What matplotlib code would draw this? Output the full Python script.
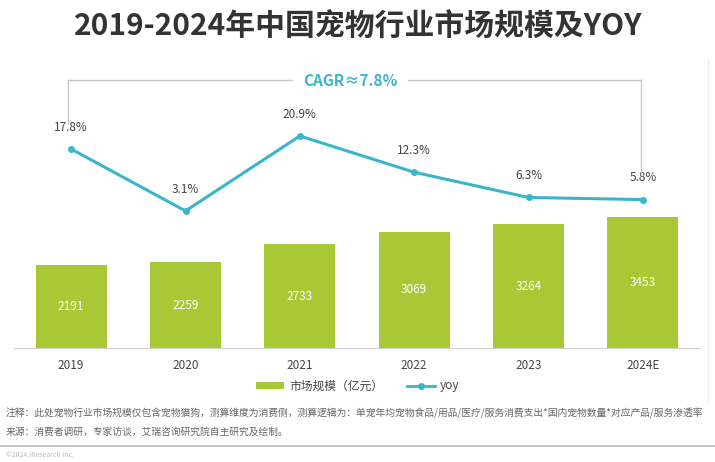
import matplotlib
matplotlib.use("Agg")
import matplotlib.pyplot as plt
from matplotlib.lines import Line2D
from matplotlib.patches import Patch

plt.rcParams['font.family'] = ['Noto Sans CJK SC', 'DejaVu Sans']

years = ["2019", "2020", "2021", "2022", "2023", "2024E"]
market = [2191, 2259, 2733, 3069, 3264, 3453]
yoy = [17.8, 3.1, 20.9, 12.3, 6.3, 5.8]
title = "2019-2024年中国宠物行业市场规模及YOY"
cagr = "CAGR≈7.8%"
bar_label = "市场规模（亿元）"
line_label = "yoy"
note1 = "注释：此处宠物行业市场规模仅包含宠物猫狗，测算维度为消费侧，测算逻辑为：单宠年均宠物食品/用品/医疗/服务消费支出*国内宠物数量*对应产品/服务渗透率"
note2 = "来源：消费者调研，专家访谈，艾瑞咨询研究院自主研究及绘制。"
copyright_txt = "©2024.iResearch Inc."

GREEN = "#a8c935"
TEAL = "#3ab5cb"
W, H = 715, 462
fig = plt.figure(figsize=(W / 100, H / 100), dpi=100)

def fx(px):
    return px / W

def fy(py):
    return 1 - py / H

ax = fig.add_axes([fx(14), fy(348), fx(700) - fx(14), fy(80) - fy(348)])
x = list(range(len(years)))
bars = ax.bar(x, market, width=0.62, color=GREEN, zorder=2)
ax.set_ylim(0, 7075)
ax.set_xlim(-0.5, 5.5)
for xi, v in zip(x, market):
    ax.text(xi, v / 2, str(v), ha="center", va="center", color="white", fontsize=8.5)
for s in ["top", "right", "left"]:
    ax.spines[s].set_visible(False)
ax.spines["bottom"].set_color("#d0d0d0")
ax.set_yticks([])
ax.set_xticks(x)
ax.set_xticklabels(years, fontsize=8.5, color="#444444")
ax.tick_params(axis="x", length=0, pad=8)

ax2 = ax.twinx()
ax2.plot(x, yoy, color=TEAL, lw=2.2, marker="o", ms=4, zorder=3)
ax2.set_ylim(-29.45, 34.2)
ax2.set_yticks([])
for s in ["top", "right", "left", "bottom"]:
    ax2.spines[s].set_visible(False)
for xi, v in zip(x, yoy):
    ax2.annotate(f"{v}%", (xi, v), xytext=(0, 11), textcoords="offset points",
                 ha="center", va="bottom", fontsize=8.5, color="#444444")

# CAGR bracket (figure coordinates)
gray = "#c8c8c8"
fig.add_artist(Line2D([fx(68), fx(292)], [fy(80), fy(80)], color=gray, lw=1))
fig.add_artist(Line2D([fx(408), fx(641)], [fy(80), fy(80)], color=gray, lw=1))
fig.add_artist(Line2D([fx(68), fx(68)], [fy(80), fy(124)], color=gray, lw=1))
fig.add_artist(Line2D([fx(641), fx(641)], [fy(80), fy(174)], color=gray, lw=1))
fig.text(fx(350), fy(81), cagr, ha="center", va="center", color=TEAL,
         fontsize=11, fontweight="bold")

fig.text(fx(358), fy(27), title, ha="center", va="center", fontsize=21.5,
         fontweight="bold", color="#333333")

handles = [Patch(facecolor=GREEN, edgecolor="none"),
           Line2D([0], [0], color=TEAL, lw=2, marker="o", ms=4)]
fig.legend(handles, [bar_label, line_label], loc="center", ncol=2,
           bbox_to_anchor=(0.5, fy(386)), frameon=False, fontsize=8.5,
           handlelength=2.4, handleheight=0.6, columnspacing=2.0,
           handletextpad=0.4, labelcolor="#444444")

fig.text(fx(6), fy(413), note1, ha="left", va="center", fontsize=7.05, color="#666666")
fig.text(fx(6), fy(432), note2, ha="left", va="center", fontsize=7.05, color="#666666")
fig.add_artist(Line2D([0, 1], [fy(446), fy(446)], color="#bbbbbb", lw=1.2))
fig.text(fx(6), fy(455), copyright_txt, ha="left", va="center", fontsize=5, color="#bbbbbb")
fig.add_artist(Line2D([fx(708), fx(708)], [fy(60), fy(400)], color="#eeeeee", lw=1))

fig.savefig("out.png", dpi=100, facecolor="white")
